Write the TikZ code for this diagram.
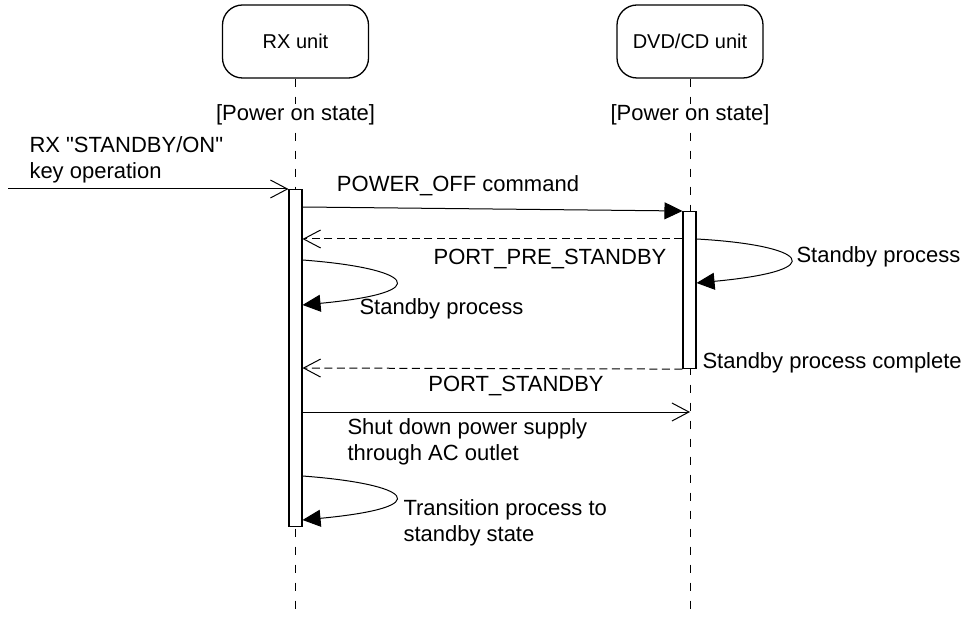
\documentclass[tikz,border=0pt]{standalone}
\usepackage{fontspec}
\setmainfont{Liberation Sans}[Ligatures=TeXOff]
\usetikzlibrary{arrows.meta}
\begin{document}
\begin{tikzpicture}[x=1pt,y=-1pt,line width=1pt,
  lbl/.style={font=\fontsize{22}{25.5}\selectfont,inner sep=0pt},
  unitbox/.style={draw,rounded corners=20pt,minimum width=146pt,minimum height=73pt,inner sep=0pt,font=\fontsize{20}{24}\selectfont,line width=1.3pt},
  lifeline/.style={dash pattern=on 8pt off 10pt},
  msgdash/.style={dash pattern=on 8pt off 4.5pt},
  actbar/.style={draw,fill=white,minimum width=13pt,inner sep=0pt,line width=1.1pt},
  openarrow/.style={-{Straight Barb[length=17pt,width=18pt,line width=1pt]}},
  fillarrow/.style={-{Triangle[length=18pt,width=17pt]}},
  statelbl/.style={lbl,fill=white,inner sep=1pt}]
\useasboundingbox (0,0) rectangle (969,617);

% unit boxes
\node[unitbox] (rx) at (295.5,41.5) {RX unit};
\node[unitbox] (dvd) at (690,41.5) {DVD/CD unit};

% lifelines
\coordinate (rxend) at (295.5,617);
\coordinate (dvdend) at (690,617);
\draw[lifeline] (rx.south) -- (rxend);
\draw[lifeline] (dvd.south) -- (dvdend);

% state labels
\node[statelbl] (rxstate) at (295.5,115) {[Power on state]};
\node[statelbl] (dvdstate) at (690,115) {[Power on state]};

% activation bars
\node[actbar,minimum height=337pt,anchor=north] (rxbar) at (295.5,189) {};
\node[actbar,minimum height=157pt,anchor=north] (dvdbar) at (689.5,211) {};

% coordinates on bars
\coordinate (ext) at (8,189);
\coordinate (p1) at (rxbar.east |- 0,207);
\coordinate (p2r) at (rxbar.east |- 0,239);
\coordinate (p2d) at (dvdbar.west |- 0,239);
\coordinate (l1s) at (dvdbar.east |- 0,239);
\coordinate (l1e) at (dvdbar.east |- 0,283);
\coordinate (l2s) at (rxbar.east |- 0,260);
\coordinate (l2e) at (rxbar.east |- 0,305);
\coordinate (p3r) at (rxbar.east |- 0,368);
\coordinate (p4s) at (rxbar.east |- 0,412);
\coordinate (p4e) at (690,412);
\coordinate (l3s) at (rxbar.east |- 0,476);
\coordinate (l3e) at (rxbar.east |- 0,520);

% messages
\draw[openarrow] (ext) -- (rxbar.north west);
\draw[fillarrow] (p1) -- (dvdbar.north west);
\draw[openarrow,msgdash] (p2d) -- (p2r);
\draw[fillarrow] (l1s) .. controls (805,245) and (835,270) .. (l1e);
\draw[fillarrow] (l2s) .. controls (410,268) and (440,292) .. (l2e);
\draw[openarrow,msgdash] (dvdbar.south west) -- (p3r);
\draw[openarrow] (p4s) -- (p4e);
\draw[fillarrow] (l3s) .. controls (410,484) and (440,507) .. (l3e);

% labels
\node[lbl,anchor=west,align=left] (keyop) at (29,160) {RX "STANDBY/ON"\\key operation};
\node[lbl] (poweroff) at (458,186) {POWER\_OFF command};
\node[lbl] (preport) at (550,259) {PORT\_PRE\_STANDBY};
\node[lbl,anchor=west] (sprx) at (359,309) {Standby process};
\node[lbl,anchor=west] (spdvd) at (796,257) {Standby process};
\node[lbl,anchor=west] (spc) at (702,363) {Standby process complete};
\node[lbl] (portsb) at (516,386) {PORT\_STANDBY};
\node[lbl,anchor=west,align=left] (shut) at (347,442) {Shut down power supply\\through AC outlet};
\node[lbl,anchor=west,align=left] (trans) at (403,523) {Transition process to\\standby state};
\end{tikzpicture}
\end{document}
